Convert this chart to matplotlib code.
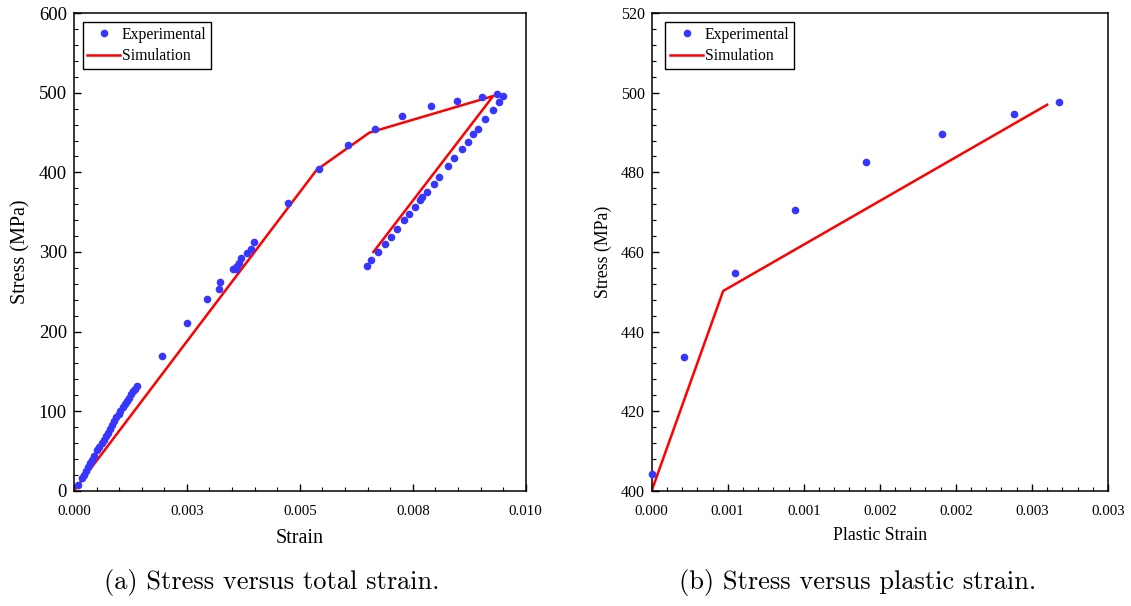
import matplotlib
matplotlib.use("Agg")
import matplotlib.pyplot as plt
from matplotlib.ticker import FixedLocator, MultipleLocator

plt.rcParams['font.family'] = ['Liberation Serif', 'DejaVu Serif']

# (a) stress versus total strain
exp_strain = [0.00008, 0.00017, 0.00022, 0.00026, 0.00032, 0.00036, 0.00040, 0.00045,
              0.00052, 0.00056, 0.00062, 0.00066, 0.00071, 0.00075, 0.00080, 0.00085,
              0.00089, 0.00094, 0.00099, 0.00103, 0.00108, 0.00112, 0.00117, 0.00121,
              0.00126, 0.00131, 0.00136, 0.00140,
              0.00194, 0.00251, 0.00294, 0.00320, 0.00324, 0.00353, 0.00356, 0.00358,
              0.00362, 0.00365, 0.00370, 0.00382, 0.00392, 0.00399,
              0.00473, 0.00543, 0.00606, 0.00667, 0.00727, 0.00791, 0.00849, 0.00904,
              0.00937, 0.00949, 0.00942, 0.00928, 0.00911, 0.00895, 0.00884, 0.00872,
              0.00860, 0.00841, 0.00827, 0.00808, 0.00796, 0.00781, 0.00770, 0.00766,
              0.00756, 0.00742, 0.00730, 0.00716, 0.00701, 0.00689, 0.00674, 0.00657,
              0.00649]
exp_stress = [7, 16, 20, 25, 30, 35, 38, 43,
              51, 55, 60, 64, 69, 73, 78, 83,
              87, 92, 96, 100, 105, 109, 113, 117,
              121, 125, 128, 131,
              169, 211, 241, 253, 262, 279, 280, 279,
              282, 286, 292, 299, 304, 312,
              362, 404, 434, 455, 471, 483, 490, 495,
              498, 496, 488, 478, 467, 455, 448, 438,
              430, 418, 408, 394, 386, 375, 369, 365,
              357, 348, 340, 329, 319, 310, 300, 290,
              283]
sim_strain = [0.0, 0.00537, 0.00654, 0.00928, 0.00663]
sim_stress = [0, 403, 450, 496, 300]
strain_ticks = [0.0, 0.0025, 0.005, 0.0075, 0.01]
strain_labels = ["0.000", "0.003", "0.005", "0.008", "0.010"]

# (b) stress versus plastic strain
exp_plastic = [0.0, 0.00021, 0.00055, 0.00094, 0.00141, 0.00191, 0.00238, 0.00268]
exp_plastic_stress = [404.1, 433.7, 454.6, 470.5, 482.7, 489.7, 494.8, 497.8]
sim_plastic = [0.0, 0.00047, 0.00260]
sim_plastic_stress = [400, 450.2, 497.0]
plastic_ticks = [0.0, 0.0005, 0.001, 0.0015, 0.002, 0.0025, 0.003]
plastic_labels = ["0.000", "0.001", "0.001", "0.002", "0.002", "0.003", "0.003"]

blue = '#3636ff'
red = '#ff0000'

fig = plt.figure(figsize=(11.31, 6.06), dpi=100)
ax1 = fig.add_axes([0.0654, 0.1903, 0.3994, 0.7878])
ax2 = fig.add_axes([0.5762, 0.1903, 0.4034, 0.7878])


def style_axes(ax, ytick_size, xtick_size):
    for spine in ax.spines.values():
        spine.set_linewidth(1.1)
        spine.set_color('black')
    ax.tick_params(which='both', direction='in', top=False, right=False, colors='black')
    ax.tick_params(which='major', length=5, width=1.0)
    ax.tick_params(which='minor', length=3, width=0.8)
    ax.tick_params(axis='y', labelsize=ytick_size, pad=5)
    ax.tick_params(axis='x', labelsize=xtick_size, pad=10)


# Left panel
ax1.plot(exp_strain, exp_stress, 'o', color=blue, ms=5.5, mec='none', label='Experimental',
         clip_on=False, zorder=3)
ax1.plot(sim_strain, sim_stress, '-', color=red, lw=1.8, label='Simulation')
ax1.set_xlim(0, 0.01)
ax1.set_ylim(0, 600)
ax1.xaxis.set_major_locator(FixedLocator(strain_ticks))
ax1.set_xticklabels(strain_labels)
ax1.xaxis.set_minor_locator(MultipleLocator(0.0005))
ax1.yaxis.set_major_locator(MultipleLocator(100))
ax1.yaxis.set_minor_locator(MultipleLocator(20))
style_axes(ax1, 13.5, 10.7)
ax1.set_xlabel("Strain", fontsize=14.5, labelpad=8)
ax1.set_ylabel("Stress (MPa)", fontsize=14.5, labelpad=6)
ax1.legend(loc='upper left', fontsize=11.3, frameon=True, fancybox=False, edgecolor='black',
           framealpha=1, borderpad=0.3, handlelength=2.1, handletextpad=0.1,
           labelspacing=0.35, borderaxespad=0.55).get_frame().set_linewidth(1.0)

# Right panel
ax2.plot(exp_plastic, exp_plastic_stress, 'o', color=blue, ms=5.5, mec='none', label='Experimental',
         clip_on=False, zorder=3)
ax2.plot(sim_plastic, sim_plastic_stress, '-', color=red, lw=1.8, label='Simulation')
ax2.set_xlim(0, 0.003)
ax2.set_ylim(400, 520)
ax2.xaxis.set_major_locator(FixedLocator(plastic_ticks))
ax2.set_xticklabels(plastic_labels)
ax2.xaxis.set_minor_locator(MultipleLocator(0.0001))
ax2.yaxis.set_major_locator(MultipleLocator(20))
ax2.yaxis.set_minor_locator(MultipleLocator(4))
style_axes(ax2, 11.5, 10.7)
ax2.set_xlabel("Plastic Strain", fontsize=12.8, labelpad=7)
ax2.set_ylabel("Stress (MPa)", fontsize=12.8, labelpad=6)
ax2.legend(loc='upper left', fontsize=11.3, frameon=True, fancybox=False, edgecolor='black',
           framealpha=1, borderpad=0.3, handlelength=2.1, handletextpad=0.1,
           labelspacing=0.35, borderaxespad=0.55,
           bbox_to_anchor=(0.011, 1.0)).get_frame().set_linewidth(1.0)

# Sub-figure captions
fig.text(0.2405, 0.038, "(a) Stress versus total strain.", ha='center', va='center',
         fontsize=19, family='cmr10')
fig.text(0.7580, 0.038, "(b) Stress versus plastic strain.", ha='center', va='center',
         fontsize=19, family='cmr10')

fig.savefig('out.png', dpi=100)
